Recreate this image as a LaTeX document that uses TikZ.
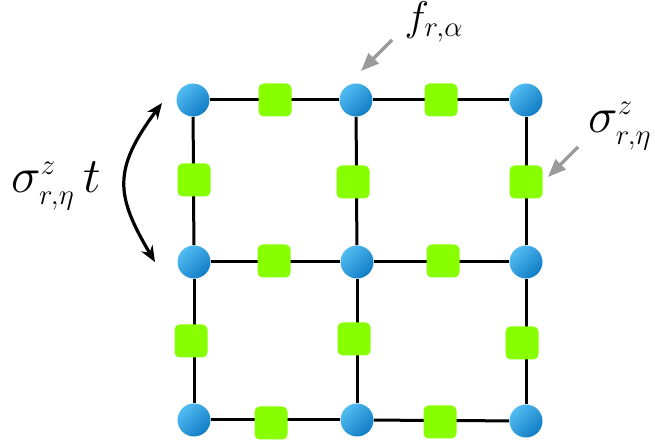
\documentclass[tikz,border=0pt]{standalone}
\usepackage{tikz}
\usetikzlibrary{arrows.meta}
\DeclareMathSizes{24.88}{24.88}{14.4}{10}
\definecolor{sitelight}{HTML}{52BCF2}
\definecolor{sitedark}{HTML}{107CC4}
\definecolor{linkgreen}{HTML}{88FF00}
\definecolor{pointergray}{HTML}{9A9A9A}
\tikzset{
 bond/.style={line width=1.5pt},
 site/.style={circle,minimum size=16.5pt,inner sep=0,top color=sitelight,bottom color=sitedark,shading angle=45},
 link/.style={rectangle,rounded corners=2.5pt,minimum size=16.5pt,inner sep=0,fill=linkgreen},
 pointer/.style={draw=pointergray,line width=1.6pt,-{Triangle[length=9pt,width=7pt]}},
 swaparrow/.style={line width=1.6pt,{Stealth[length=8pt,width=6.5pt]}-{Stealth[length=8pt,width=6.5pt]}},
 smalllabel/.style={inner sep=0,font=\huge},
 biglabel/.style={inner sep=0,font=\Huge}
}
\begin{document}
\begin{tikzpicture}[x=0.5pt,y=-0.5pt]
\path[use as bounding box] (0,0) rectangle (655,442);
% sites
\node[site] (s11) at (193,100) {};
\node[site] (s12) at (356,100) {};
\node[site] (s13) at (526,100) {};
\node[site] (s21) at (194,262) {};
\node[site] (s22) at (357,262) {};
\node[site] (s23) at (526,262) {};
\node[site] (s31) at (194,420) {};
\node[site] (s32) at (357,420) {};
\node[site] (s33) at (526,421) {};
% bonds
\draw[bond] (s11) -- (s12);
\draw[bond] (s12) -- (s13);
\draw[bond] (s21) -- (s22);
\draw[bond] (s22) -- (s23);
\draw[bond] (s31) -- (s32);
\draw[bond] (s32) -- (s33);
\draw[bond] (s11) -- (s21);
\draw[bond] (s21) -- (s31);
\draw[bond] (s12) -- (s22);
\draw[bond] (s22) -- (s32);
\draw[bond] (s13) -- (s23);
\draw[bond] (s23) -- (s33);
% links
\node[link] (l1a) at (275,100) {};
\node[link] (l1b) at (441,100) {};
\node[link] (l2a) at (194,180) {};
\node[link] (l2b) at (353,182) {};
\node[link] (l2c) at (526,182) {};
\node[link] (l3a) at (274,261) {};
\node[link] (l3b) at (443,261) {};
\node[link] (l4a) at (191,341) {};
\node[link] (l4b) at (354,339) {};
\node[link] (l4c) at (522,343) {};
\node[link] (l5a) at (271,423) {};
\node[link] (l5b) at (440,422) {};
% labels
\node[smalllabel] (lblf) at (434,22) {$f_{r,\alpha}$};
\node[biglabel] (lbls) at (620,126) {$\sigma^z_{r,\eta}$};
\node[biglabel] (lblt) at (56,186) {$\sigma^z_{r,\eta}\,t$};
% pointers
\coordinate (ftail) at (392,40);
\coordinate (fhead) at (361,71);
\coordinate (stail) at (578,147);
\coordinate (shead) at (548,177);
\draw[pointer] (ftail) -- (fhead);
\draw[pointer] (stail) -- (shead);
\coordinate (swaptop) at (162,103);
\coordinate (swapbot) at (155,262);
\draw[swaparrow] (swaptop) .. controls (112,170) and (116,196) .. (swapbot);
\end{tikzpicture}
\end{document}
